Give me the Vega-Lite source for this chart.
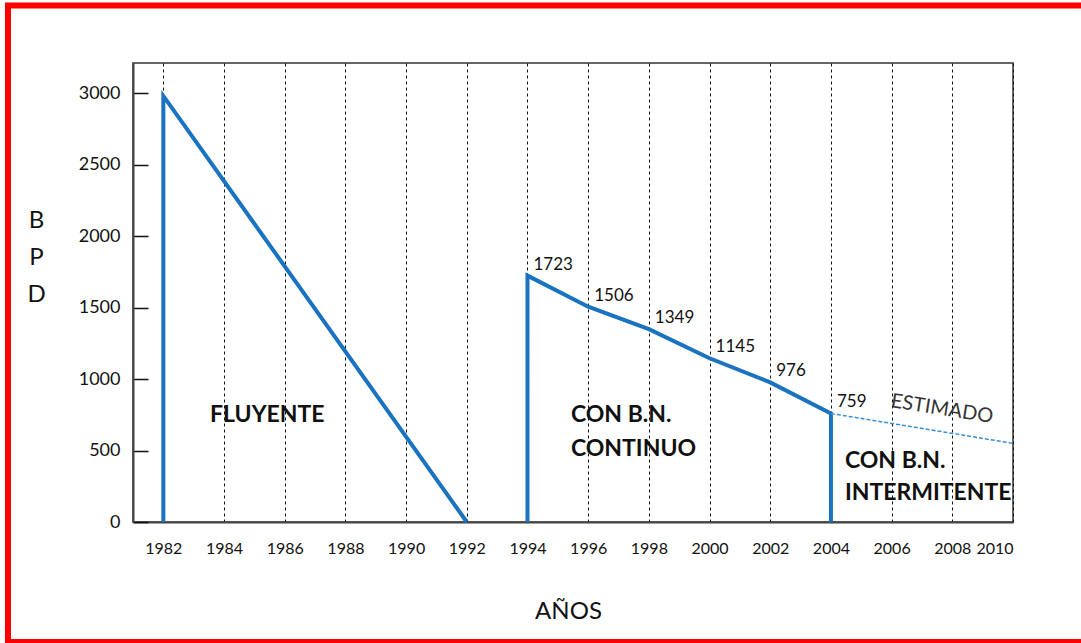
{
  "$schema": "https://vega.github.io/schema/vega-lite/v6.json",
  "width": 880,
  "height": 459,
  "autosize": "none",
  "padding": {"left": 133, "top": 63, "right": 68, "bottom": 121},
  "background": "white",
  "config": {
    "font": "Lato",
    "view": {"stroke": "#333", "strokeWidth": 1.5}
  },
  "datasets": {
    "prod": [
      {"tramo": "FLUYENTE", "o": 1, "year": 1982, "bpd": 0},
      {"tramo": "FLUYENTE", "o": 2, "year": 1982, "bpd": 2980},
      {"tramo": "FLUYENTE", "o": 3, "year": 1992, "bpd": 0},
      {"tramo": "CONTINUO", "o": 1, "year": 1994, "bpd": 0},
      {"tramo": "CONTINUO", "o": 2, "year": 1994, "bpd": 1723},
      {"tramo": "CONTINUO", "o": 3, "year": 1996, "bpd": 1506},
      {"tramo": "CONTINUO", "o": 4, "year": 1998, "bpd": 1349},
      {"tramo": "CONTINUO", "o": 5, "year": 2000, "bpd": 1145},
      {"tramo": "CONTINUO", "o": 6, "year": 2002, "bpd": 976},
      {"tramo": "CONTINUO", "o": 7, "year": 2004, "bpd": 759},
      {"tramo": "CONTINUO", "o": 8, "year": 2004, "bpd": 0}
    ],
    "estimado": [
      {"year": 2004, "bpd": 759},
      {"year": 2010, "bpd": 550}
    ],
    "valores": [
      {"year": 1994, "bpd": 1723},
      {"year": 1996, "bpd": 1506},
      {"year": 1998, "bpd": 1349},
      {"year": 2000, "bpd": 1145},
      {"year": 2002, "bpd": 976},
      {"year": 2004, "bpd": 759}
    ],
    "etiquetas": [
      {"year": 1983.54, "bpd": 699, "texto": "FLUYENTE"},
      {"year": 1995.43, "bpd": 699, "texto": "CON B.N."},
      {"year": 1995.43, "bpd": 462, "texto": "CONTINUO"},
      {"year": 2004.46, "bpd": 378, "texto": "CON B.N."},
      {"year": 2004.46, "bpd": 154, "texto": "INTERMITENTE"}
    ]
  },
  "layer": [
    {
      "data": {"name": "prod"},
      "mark": {"type": "line", "color": "#1a73c0", "strokeWidth": 4, "strokeCap": "butt", "strokeJoin": "miter"},
      "encoding": {
        "x": {
          "field": "year", "type": "quantitative",
          "scale": {"domain": [1981, 2010], "nice": false, "zero": false},
          "axis": {
            "values": [1982, 1984, 1986, 1988, 1990, 1992, 1994, 1996, 1998, 2000, 2002, 2004, 2006, 2008, 2010],
            "format": "d",
            "grid": true, "gridDash": [3, 3], "gridColor": "#111", "gridWidth": 1,
            "ticks": false,
            "labelFontSize": 16, "labelColor": "#111", "labelPadding": 18,
            "domainColor": "#444", "domainWidth": 2,
            "title": "AÑOS", "titleFontSize": 24, "titleFontWeight": "normal", "titleColor": "#111",
            "titleX": 435, "titleY": 96, "titleAlign": "center", "titleBaseline": "alphabetic"
          }
        },
        "y": {
          "field": "bpd", "type": "quantitative",
          "scale": {"domain": [0, 3210], "nice": false},
          "axis": {
            "values": [0, 500, 1000, 1500, 2000, 2500, 3000],
            "format": "d",
            "grid": false,
            "tickSize": -15, "tickColor": "#111", "tickWidth": 1.5,
            "labelFontSize": 18, "labelColor": "#111", "labelPadding": 28,
            "domainColor": "#444", "domainWidth": 2,
            "title": ["B", "P", "D"], "titleAngle": 0, "titleFontSize": 24, "titleFontWeight": "normal",
            "titleColor": "#111", "titleLineHeight": 37,
            "titleX": -97, "titleY": 164, "titleAlign": "center", "titleBaseline": "alphabetic"
          }
        },
        "detail": {"field": "tramo"},
        "order": {"field": "o", "type": "quantitative"}
      }
    },
    {
      "data": {"name": "estimado"},
      "mark": {"type": "line", "color": "#3a8fd8", "strokeWidth": 1.5, "strokeDash": [4, 2]},
      "encoding": {
        "x": {"field": "year", "type": "quantitative"},
        "y": {"field": "bpd", "type": "quantitative"}
      }
    },
    {
      "data": {"name": "valores"},
      "mark": {"type": "text", "align": "left", "baseline": "middle", "dx": 6, "dy": -11, "fontSize": 17, "color": "#111"},
      "encoding": {
        "x": {"field": "year", "type": "quantitative"},
        "y": {"field": "bpd", "type": "quantitative"},
        "text": {"field": "bpd", "type": "quantitative", "format": "d"}
      }
    },
    {
      "data": {"name": "etiquetas"},
      "mark": {"type": "text", "align": "left", "baseline": "alphabetic", "fontSize": 23, "fontWeight": "bold", "color": "#111"},
      "encoding": {
        "x": {"field": "year", "type": "quantitative"},
        "y": {"field": "bpd", "type": "quantitative"},
        "text": {"field": "texto"}
      }
    },
    {
      "data": {"values": [{"year": 2007.66, "bpd": 790, "texto": "ESTIMADO"}]},
      "mark": {"type": "text", "align": "center", "baseline": "middle", "angle": 9, "fontSize": 20, "color": "#333"},
      "encoding": {
        "x": {"field": "year", "type": "quantitative"},
        "y": {"field": "bpd", "type": "quantitative"},
        "text": {"field": "texto"}
      }
    },
    {
      "data": {"values": [{}]},
      "mark": {"type": "rect", "fill": null, "stroke": "#ff0000", "strokeWidth": 6, "clip": false},
      "encoding": {
        "x": {"datum": 1976.88, "type": "quantitative"},
        "x2": {"datum": 2012.6},
        "y": {"datum": 3612, "type": "quantitative"},
        "y2": {"datum": -839}
      }
    }
  ]
}
